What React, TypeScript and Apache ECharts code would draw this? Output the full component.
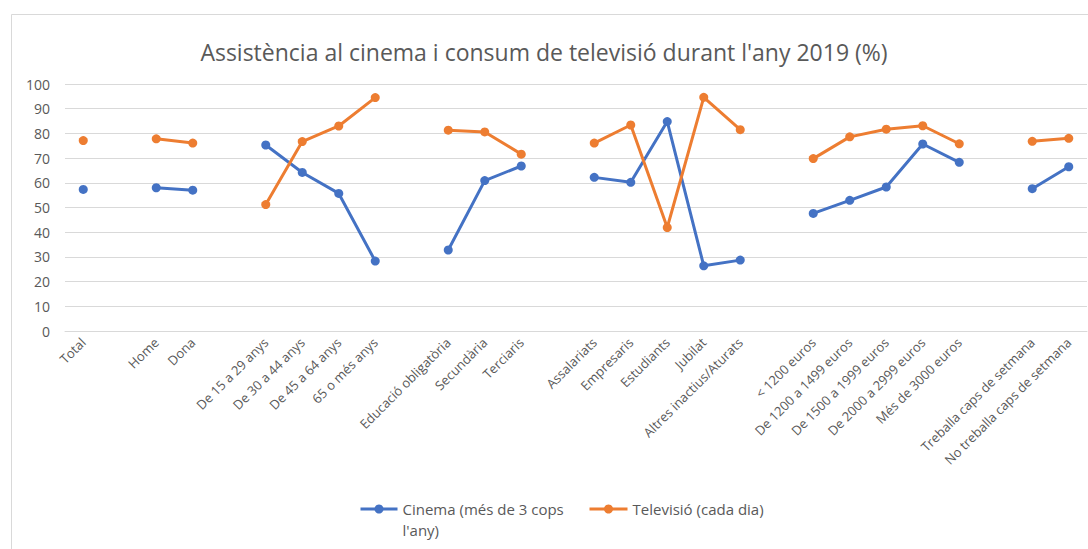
import React, { useEffect, useRef } from "react";
import * as echarts from "echarts";

const categories: string[] = [
  "Total", "", "Home", "Dona", "",
  "De 15 a 29 anys", "De 30 a 44 anys", "De 45 a 64 anys", "65 o més anys", "",
  "Educació obligatòria", "Secundària", "Terciaris", "",
  "Assalariats", "Empresaris", "Estudiants", "Jubilat", "Altres inactius/Aturats", "",
  "< 1200 euros", "De 1200 a 1499 euros", "De 1500 a 1999 euros", "De 2000 a 2999 euros", "Més de 3000 euros", "",
  "Treballa caps de setmana", "No treballa caps de setmana",
];

const cinema: (number | null)[] = [
  57.3, null, 58, 57, null,
  75.3, 64.2, 55.7, 28.3, null,
  32.8, 60.9, 66.8, null,
  62.2, 60.2, 84.8, 26.4, 28.7, null,
  47.6, 52.9, 58.3, 75.7, 68.3, null,
  57.6, 66.5,
];

const television: (number | null)[] = [
  77.1, null, 77.8, 76.1, null,
  51.2, 76.7, 83.0, 94.5, null,
  81.3, 80.6, 71.6, null,
  76.1, 83.4, 41.9, 94.6, 81.5, null,
  69.8, 78.6, 81.7, 83.1, 75.8, null,
  76.8, 78.0,
];

const yTicks = { min: 0, max: 100, interval: 10 };

const BLUE = "#4472C4";
const ORANGE = "#ED7D31";
const TEXT = "#595959";
const FONT = "'Open Sans', sans-serif";

export default function App() {
  const ref = useRef<HTMLDivElement>(null);
  useEffect(() => {
    if (!ref.current) return;
    const chart = echarts.init(ref.current, undefined, { renderer: "svg" });
    chart.setOption({
      animation: false,
      backgroundColor: "#ffffff",
      title: {
        text: "Assistència al cinema i consum de televisió durant l'any 2019 (%)",
        left: "center",
        top: 35,
        textStyle: { fontFamily: FONT, fontSize: 23, fontWeight: "normal", color: TEXT },
      },
      grid: { left: 65, right: 1, top: 84, bottom: 218, containLabel: false },
      xAxis: {
        type: "category",
        data: categories,
        boundaryGap: true,
        axisLine: { show: true, lineStyle: { color: "#d9d9d9", width: 1 } },
        axisTick: { show: false },
        axisLabel: {
          interval: 0,
          rotate: 45,
          fontFamily: FONT,
          fontSize: 13,
          color: TEXT,
          margin: 9,
        },
      },
      yAxis: {
        type: "value",
        min: yTicks.min,
        max: yTicks.max,
        interval: yTicks.interval,
        axisLine: { show: false },
        axisTick: { show: false },
        splitLine: { lineStyle: { color: "#d9d9d9", width: 1 } },
        axisLabel: { fontFamily: FONT, fontSize: 14, color: TEXT, margin: 15 },
      },
      series: [
        {
          name: "Cinema (més de 3 cops l'any)",
          type: "line",
          data: cinema,
          connectNulls: false,
          symbol: "circle",
          symbolSize: 9,
          itemStyle: { color: BLUE },
          lineStyle: { color: BLUE, width: 3 },
        },
        {
          name: "Televisió (cada dia)",
          type: "line",
          data: television,
          connectNulls: false,
          symbol: "circle",
          symbolSize: 9,
          itemStyle: { color: ORANGE },
          lineStyle: { color: ORANGE, width: 3 },
        },
      ],
      graphic: [
        {
          type: "rect",
          silent: true,
          shape: { x: 11.5, y: 14.5, width: 1200, height: 700 },
          style: { fill: "none", stroke: "#d9d9d9", lineWidth: 1 },
          z: -10,
        },
        {
          type: "group",
          left: 358,
          top: 498,
          children: [
            { type: "line", shape: { x1: 0, y1: 11, x2: 37, y2: 11 }, style: { stroke: BLUE, lineWidth: 3 } },
            { type: "circle", shape: { cx: 18.5, cy: 11, r: 4.5 }, style: { fill: BLUE } },
            {
              type: "text",
              x: 42,
              y: 0,
              style: {
                text: "Cinema (més de 3 cops\nl'any)",
                fontFamily: FONT,
                fontSize: 15,
                lineHeight: 21,
                fill: TEXT,
              },
            },
          ],
        },
        {
          type: "group",
          left: 587,
          top: 498,
          children: [
            { type: "line", shape: { x1: 0, y1: 11, x2: 38, y2: 11 }, style: { stroke: ORANGE, lineWidth: 3 } },
            { type: "circle", shape: { cx: 19, cy: 11, r: 4.5 }, style: { fill: ORANGE } },
            {
              type: "text",
              x: 43,
              y: 0,
              style: {
                text: "Televisió (cada dia)",
                fontFamily: FONT,
                fontSize: 15,
                lineHeight: 21,
                fill: TEXT,
              },
            },
          ],
        },
      ],
    });
    return () => chart.dispose();
  }, []);
  return (
    <div
      ref={ref}
      style={{ position: "absolute", left: 0, top: 0, width: 1088, height: 549 }}
    />
  );
}
